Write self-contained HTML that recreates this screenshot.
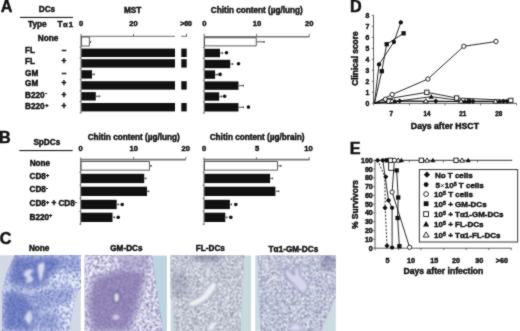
<!DOCTYPE html>
<html><head><meta charset="utf-8"><style>
html,body{margin:0;padding:0;background:#fff;}
body{width:520px;height:331px;overflow:hidden;}
svg{display:block;will-change:transform;}
</style></head><body>
<svg width="520" height="331" viewBox="0 0 520 331" font-family="Liberation Sans, sans-serif" font-weight="bold" fill="#111">
<defs>
<filter id="sw" x="0" y="0" width="1" height="1" color-interpolation-filters="sRGB">
<feTurbulence type="fractalNoise" baseFrequency="0.6" numOctaves="2" seed="4"/>
<feColorMatrix type="matrix" values="0 0 0 0 0.95  0 0 0 0 0.96  0 0 0 0 0.99  -10 0 0 0 6.000"/>
<feConvolveMatrix order="3" kernelMatrix="1 2 1 2 5 2 1 2 1" divisor="17" edgeMode="duplicate"/>
</filter>
<filter id="sw2" x="0" y="0" width="1" height="1" color-interpolation-filters="sRGB">
<feTurbulence type="fractalNoise" baseFrequency="0.75" numOctaves="2" seed="8"/>
<feColorMatrix type="matrix" values="0 0 0 0 0.93  0 0 0 0 0.94  0 0 0 0 0.97  -10 0 0 0 6.000"/>
<feConvolveMatrix order="3" kernelMatrix="1 2 1 2 5 2 1 2 1" divisor="17" edgeMode="duplicate"/>
</filter>
<filter id="nw" x="0" y="0" width="1" height="1" color-interpolation-filters="sRGB">
<feTurbulence type="fractalNoise" baseFrequency="0.6" numOctaves="2" seed="5"/>
<feColorMatrix type="matrix" values="0 0 0 0 0.95  0 0 0 0 0.96  0 0 0 0 0.99  -10 0 0 0 5.000"/>
<feConvolveMatrix order="3" kernelMatrix="1 2 1 2 5 2 1 2 1" divisor="17" edgeMode="duplicate"/>
</filter>
<filter id="nd" x="0" y="0" width="1" height="1" color-interpolation-filters="sRGB">
<feTurbulence type="fractalNoise" baseFrequency="0.65" numOctaves="2" seed="17"/>
<feColorMatrix type="matrix" values="0 0 0 0 0.22  0 0 0 0 0.25  0 0 0 0 0.42  0 10 0 0 -5.400"/>
<feConvolveMatrix order="3" kernelMatrix="1 2 1 2 5 2 1 2 1" divisor="17" edgeMode="duplicate"/>
</filter>
<filter id="bl4"><feGaussianBlur stdDeviation="4"/></filter>
<filter id="bl3"><feGaussianBlur stdDeviation="3"/></filter>
<filter id="bl2"><feGaussianBlur stdDeviation="2"/></filter>
<filter id="bl1"><feGaussianBlur stdDeviation="1"/></filter>
<clipPath id="c1"><rect x="0" y="255.3" width="80.8" height="76"/></clipPath>
<clipPath id="c2"><rect x="84.8" y="255.5" width="82.1" height="76"/></clipPath>
<clipPath id="c3"><rect x="170.6" y="255.6" width="80.4" height="76"/></clipPath>
<clipPath id="c4"><rect x="255.2" y="255.6" width="80.6" height="76"/></clipPath>
<clipPath id="t1"><polygon points="15,255 81,255 81,288 77,292 73.5,305 69,331 2,331 2,293 7,272"/></clipPath>
<clipPath id="t2"><polygon points="84,255 151.7,255 163.2,331 84,331"/></clipPath>
<clipPath id="t3"><polygon points="170,255 244.3,255 240.4,331 174,331 173,300 170,298"/></clipPath>
<clipPath id="t4"><path d="M257.8,255 L336,255 L336,296 L321,331 L261,331 Q258,300 257.8,255z"/></clipPath>
<mask id="m1" maskUnits="userSpaceOnUse" x="0" y="250" width="90" height="90">
 <rect x="0" y="250" width="90" height="90" fill="#fff"/>
 <g filter="url(#bl3)" fill="#1a1a1a">
  <polygon points="12,256 66,256 62,266 52,274 46,284 36,288 20,287 8,283 10,270"/>
  <polygon points="3,293 16,290 28,296 36,306 38,318 34,331 3,331"/>
 </g>
 <g filter="url(#bl3)" fill="#777"><polygon points="28,292 72,286 72,300 35,312"/><polygon points="58,256 81,256 81,272 64,272"/><polygon points="36,312 60,312 60,331 36,331"/></g>
</mask>
<mask id="m2" maskUnits="userSpaceOnUse" x="80" y="250" width="90" height="90">
 <rect x="80" y="250" width="90" height="90" fill="#fff"/>
 <g filter="url(#bl3)" fill="#000">
  <polygon points="94,278 124,268 146,272 142,288 136,312 128,331 92,331 88,302"/>
 </g>
 <g filter="url(#bl2)" fill="#777"><polygon points="116,256 150,256 148,268 122,270"/></g>
</mask>
<filter id="gsoft" x="0" y="0" width="520" height="331" filterUnits="userSpaceOnUse" color-interpolation-filters="sRGB"><feConvolveMatrix order="3" kernelMatrix="1 2 1 2 16 2 1 2 1" divisor="28" edgeMode="duplicate"/></filter>
</defs>
<g filter="url(#gsoft)">
<rect x="0" y="0" width="520" height="331" fill="#fff"/>
<g clip-path="url(#c1)">
 <rect x="0" y="255" width="81" height="77" fill="#d3d8e6"/>
 <g clip-path="url(#t1)">
  <rect x="0" y="255" width="81" height="77" fill="#5a6bbd"/>
  <rect x="0" y="255" width="81" height="77" filter="url(#nw)" opacity="0.3"/><rect x="0" y="255" width="81" height="77" filter="url(#nd)" opacity="0.25"/>
  <g mask="url(#m1)">
   <rect x="0" y="255" width="81" height="77" fill="#6c7ec6"/>
   <rect x="0" y="255" width="81" height="77" filter="url(#sw)"/>
  </g>
 </g>
 <g fill="#e6eaf5" filter="url(#bl1)">
  <path d="M24,272 q5,-5 10,-2 q-3,2 -4,5 q4,2 3,6 q-3,3 -8,1 q3,-2 2,-4 q-4,-2 -3,-6z" opacity="0.85"/>
  <path d="M37.5,266 q3,-4 7,-3 q0,8 -2,13 l-2,7 q-2,-8 -3,-17z" opacity="0.9"/>
  <path d="M24,318 q3,-6 6,-8 q3,4 2,9 l-2,6 q-4,-3 -6,-7z" opacity="0.85"/>
 </g>
</g>
<g clip-path="url(#c2)">
 <rect x="84" y="255" width="84" height="77" fill="#bcd4e0"/>
 <g clip-path="url(#t2)">
  <rect x="84" y="255" width="84" height="77" fill="#8e7fb6"/>
  <rect x="84" y="255" width="84" height="77" filter="url(#nw)" opacity="0.3"/><rect x="84" y="255" width="84" height="77" filter="url(#nd)" opacity="0.2"/>
  <g mask="url(#m2)">
   <rect x="84" y="255" width="84" height="77" fill="#7a70aa"/>
   <rect x="84" y="255" width="84" height="77" filter="url(#sw)"/>
  </g>
 </g>
 <ellipse cx="116.7" cy="297.4" rx="3.9" ry="6.3" fill="#5a5888" opacity="0.65" filter="url(#bl1)"/>
 <ellipse cx="116.6" cy="297.5" rx="2.2" ry="4.4" fill="#eaeaf2" filter="url(#bl1)"/>
 <ellipse cx="116" cy="317" rx="3.5" ry="2.6" fill="#d0d0e6" filter="url(#bl1)"/>
</g>
<g clip-path="url(#c3)">
 <rect x="170" y="255" width="82" height="77" fill="#c8dadd"/>
 <g clip-path="url(#t3)">
  <rect x="170" y="255" width="82" height="77" fill="#9497a8"/>
  <rect x="170" y="255" width="82" height="77" filter="url(#sw2)"/>
  <g filter="url(#bl2)" fill="#6a7090" opacity="0.55"><ellipse cx="208" cy="257" rx="16" ry="4"/><ellipse cx="180" cy="285" rx="8" ry="14" opacity="0.5"/></g>
  <rect x="170" y="255" width="82" height="77" filter="url(#nw)" opacity="0.0"/><rect x="170" y="255" width="82" height="77" filter="url(#nd)" opacity="0.35"/>
  <rect x="170" y="300" width="4" height="31" fill="#d4dae4" opacity="0.7"/>
 </g>
 <path d="M188,303 q5,-4 11,-6 q5,-3 7,-8 q3,-5 7,-7 q4,-1 4,3 q-1,5 -5,9 q-4,6 -10,9 q-6,4 -12,4 q-3,-1 -2,-4z" fill="#eef0f5" stroke="#7c84a4" stroke-width="1" filter="url(#bl1)"/>
 <path d="M206,268 q2,-3 4,0 l0,9 q-2,3 -4,0z" fill="#eef0f5" stroke="#8088a6" stroke-width="0.7" filter="url(#bl1)"/>
 <path d="M206,331 q2,-8 8,-10 q4,-1 4,3 q-4,2 -4,7z" fill="#e8ecf2" stroke="#7c84a4" stroke-width="0.8" filter="url(#bl1)"/>
</g>
<g clip-path="url(#c4)">
 <rect x="255" y="255" width="82" height="77" fill="#ccdae2"/>
 <g clip-path="url(#t4)">
  <rect x="255" y="255" width="82" height="77" fill="#8a90b4"/>
  <rect x="255" y="255" width="82" height="77" filter="url(#sw2)"/>
  <rect x="255" y="255" width="82" height="77" filter="url(#nw)" opacity="0.0"/><rect x="255" y="255" width="82" height="77" filter="url(#nd)" opacity="0.4"/>
  <g filter="url(#bl2)" fill="#4a5078" opacity="0.35"><ellipse cx="328" cy="262" rx="8" ry="8"/></g>
 </g>
 <path d="M284,270 q3,-2 6,1 l4,4 q0,-5 2,-9 l3,0 q0,5 1,8 q1,3 4,5 q4,3 4,8 q-1,5 -5,6 q-4,-1 -6,-5 q-2,-4 -6,-6 q-5,-3 -7,-12z" fill="#d8d8ec" stroke="#8888bc" stroke-width="1.2" filter="url(#bl1)"/>
 <path d="M290,327 q4,-5 9,-3 q3,3 2,7 l-12,0z" fill="#dcdcee" stroke="#8c8cc0" stroke-width="0.9" filter="url(#bl1)"/>
</g>
<text x="0.8" y="11.7" font-size="16.2" text-anchor="start" stroke="#111" stroke-width="0.45" >A</text>
<text x="47" y="12.3" font-size="8.2" text-anchor="middle" stroke="#111" stroke-width="0.45" >DCs</text>
<line x1="20" y1="17.4" x2="73" y2="17.4" stroke="#000" stroke-width="1" />
<text x="28" y="26.9" font-size="8.2" text-anchor="start" stroke="#111" stroke-width="0.45" >Type</text>
<text x="57.6" y="26.9" font-size="8.2" text-anchor="start" stroke="#111" stroke-width="0.45" >T</text>
<text x="63.0" y="26.9" font-size="7.6" text-anchor="start" stroke="#111" stroke-width="0.45" >&#945;</text>
<text x="68.8" y="26.9" font-size="8.0" text-anchor="start" stroke="#111" stroke-width="0.45" >1</text>
<text x="81" y="26.1" font-size="7.6" text-anchor="middle" stroke="#111" stroke-width="0.45" >0</text>
<text x="133.5" y="26.1" font-size="7.6" text-anchor="middle" stroke="#111" stroke-width="0.45" >20</text>
<text x="132.7" y="12.7" font-size="8.2" text-anchor="middle" stroke="#111" stroke-width="0.45" >MST</text>
<text x="186" y="26" font-size="6.9" text-anchor="middle" stroke="#111" stroke-width="0.45" >&gt;60</text>
<text x="204.4" y="26.1" font-size="7.6" text-anchor="middle" stroke="#111" stroke-width="0.45" >0</text>
<text x="257" y="26.1" font-size="7.6" text-anchor="middle" stroke="#111" stroke-width="0.45" >10</text>
<text x="309.3" y="26.1" font-size="7.6" text-anchor="middle" stroke="#111" stroke-width="0.45" >20</text>
<text x="210.8" y="12.6" font-size="8.2" text-anchor="start" stroke="#111" stroke-width="0.45" >Chitin content (&#181;g/lung)</text>
<text x="37.8" y="41.2" font-size="8.2" text-anchor="start" stroke="#111" stroke-width="0.45" >None</text>
<text x="25.1" y="52.8" font-size="8.2" text-anchor="start" stroke="#111" stroke-width="0.45" >FL</text>
<text x="64" y="52.8" font-size="8.2" text-anchor="middle" stroke="#111" stroke-width="0.45" >&#8211;</text>
<text x="25.1" y="64.4" font-size="8.2" text-anchor="start" stroke="#111" stroke-width="0.45" >FL</text>
<text x="64" y="64.4" font-size="8.2" text-anchor="middle" stroke="#111" stroke-width="0.45" >+</text>
<text x="25.1" y="75.6" font-size="8.2" text-anchor="start" stroke="#111" stroke-width="0.45" >GM</text>
<text x="64" y="75.6" font-size="8.2" text-anchor="middle" stroke="#111" stroke-width="0.45" >&#8211;</text>
<text x="25.1" y="86.4" font-size="8.2" text-anchor="start" stroke="#111" stroke-width="0.45" >GM</text>
<text x="64" y="86.4" font-size="8.2" text-anchor="middle" stroke="#111" stroke-width="0.45" >+</text>
<text x="25.1" y="98.1" font-size="8.2" text-anchor="start" stroke="#111" stroke-width="0.45" >B220</text>
<text x="64" y="98.1" font-size="8.2" text-anchor="middle" stroke="#111" stroke-width="0.45" >+</text>
<text x="25.1" y="109.4" font-size="8.2" text-anchor="start" stroke="#111" stroke-width="0.45" >B220</text>
<text x="64" y="109.4" font-size="8.2" text-anchor="middle" stroke="#111" stroke-width="0.45" >+</text>
<text x="45.2" y="95.3" font-size="5.5" text-anchor="start" stroke="#111" stroke-width="0.45" >-</text>
<text x="45.2" y="106.5" font-size="5.5" text-anchor="start" stroke="#111" stroke-width="0.45" >+</text>
<line x1="81" y1="36.3" x2="175" y2="36.3" stroke="#444" stroke-width="0.8" />
<line x1="181.3" y1="36.3" x2="186.6" y2="36.3" stroke="#444" stroke-width="0.8" />
<line x1="186.6" y1="33.6" x2="186.6" y2="36.6" stroke="#444" stroke-width="0.8" />
<line x1="133.5" y1="34" x2="133.5" y2="36.3" stroke="#444" stroke-width="0.8" />
<line x1="81" y1="33.8" x2="81" y2="113.5" stroke="#444" stroke-width="0.8" />
<line x1="79.6" y1="47.3" x2="81" y2="47.3" stroke="#444" stroke-width="0.7" />
<line x1="79.6" y1="57.9" x2="81" y2="57.9" stroke="#444" stroke-width="0.7" />
<line x1="79.6" y1="68.8" x2="81" y2="68.8" stroke="#444" stroke-width="0.7" />
<line x1="79.6" y1="79.8" x2="81" y2="79.8" stroke="#444" stroke-width="0.7" />
<line x1="79.6" y1="90.7" x2="81" y2="90.7" stroke="#444" stroke-width="0.7" />
<line x1="79.6" y1="101.6" x2="81" y2="101.6" stroke="#444" stroke-width="0.7" />
<line x1="79.6" y1="112.8" x2="81" y2="112.8" stroke="#444" stroke-width="0.7" />
<rect x="81.4" y="37.0" width="7.8999999999999915" height="9.0" fill="#fff" stroke="#333" stroke-width="0.8" />
<line x1="89.3" y1="42.1" x2="91" y2="42.1" stroke="#777" stroke-width="1.3" />
<line x1="90.6" y1="41.2" x2="90.6" y2="43.0" stroke="#444" stroke-width="1.0" />
<rect x="81.4" y="48.6" width="93.6" height="8.4" fill="#111" stroke="none" stroke-width="0.8" />
<rect x="181.3" y="48.6" width="5.399999999999977" height="8.4" fill="#111" stroke="none" stroke-width="0.8" />
<rect x="81.4" y="59.2" width="93.6" height="8.4" fill="#111" stroke="none" stroke-width="0.8" />
<rect x="181.3" y="59.2" width="5.399999999999977" height="8.4" fill="#111" stroke="none" stroke-width="0.8" />
<rect x="81.4" y="70.2" width="10.599999999999994" height="8.4" fill="#111" stroke="none" stroke-width="0.8" />
<line x1="92.0" y1="74.4" x2="94.6" y2="74.4" stroke="#777" stroke-width="1.3" />
<line x1="94.19999999999999" y1="73.5" x2="94.19999999999999" y2="75.30000000000001" stroke="#444" stroke-width="1.0" />
<rect x="81.4" y="81.2" width="93.6" height="8.4" fill="#111" stroke="none" stroke-width="0.8" />
<rect x="181.3" y="81.2" width="5.399999999999977" height="8.4" fill="#111" stroke="none" stroke-width="0.8" />
<rect x="81.4" y="92.1" width="14.399999999999991" height="8.4" fill="#111" stroke="none" stroke-width="0.8" />
<line x1="95.8" y1="96.3" x2="100" y2="96.3" stroke="#777" stroke-width="1.3" />
<line x1="99.6" y1="95.39999999999999" x2="99.6" y2="97.2" stroke="#444" stroke-width="1.0" />
<rect x="81.4" y="103.0" width="93.6" height="8.4" fill="#111" stroke="none" stroke-width="0.8" />
<rect x="181.3" y="103.0" width="5.399999999999977" height="8.4" fill="#111" stroke="none" stroke-width="0.8" />
<line x1="204.2" y1="36.7" x2="309.3" y2="36.7" stroke="#777" stroke-width="1.6" />
<line x1="256.6" y1="33.8" x2="256.6" y2="36.7" stroke="#555" stroke-width="0.8" />
<line x1="309.3" y1="33.8" x2="309.3" y2="36.7" stroke="#555" stroke-width="0.8" />
<line x1="204.2" y1="33.8" x2="204.2" y2="113.5" stroke="#444" stroke-width="0.8" />
<line x1="202.8" y1="47.6" x2="204.2" y2="47.6" stroke="#444" stroke-width="0.7" />
<line x1="202.8" y1="58.4" x2="204.2" y2="58.4" stroke="#444" stroke-width="0.7" />
<line x1="202.8" y1="69.2" x2="204.2" y2="69.2" stroke="#444" stroke-width="0.7" />
<line x1="202.8" y1="80.2" x2="204.2" y2="80.2" stroke="#444" stroke-width="0.7" />
<line x1="202.8" y1="91.2" x2="204.2" y2="91.2" stroke="#444" stroke-width="0.7" />
<line x1="202.8" y1="102" x2="204.2" y2="102" stroke="#444" stroke-width="0.7" />
<line x1="202.8" y1="113" x2="204.2" y2="113" stroke="#444" stroke-width="0.7" />
<rect x="204.6" y="37.8" width="51.599999999999994" height="8.099999999999998" fill="#fff" stroke="#333" stroke-width="0.8" />
<line x1="256.2" y1="41.8" x2="264.5" y2="41.8" stroke="#777" stroke-width="1.3" />
<line x1="264.1" y1="40.9" x2="264.1" y2="42.699999999999996" stroke="#444" stroke-width="1.0" />
<rect x="204.6" y="48.8" width="15.400000000000006" height="8.4" fill="#111" stroke="none" stroke-width="0.8" />
<line x1="220.0" y1="53.0" x2="223.0" y2="53.0" stroke="#777" stroke-width="1.3" />
<line x1="222.6" y1="52.1" x2="222.6" y2="53.9" stroke="#444" stroke-width="1.0" />
<circle cx="226.5" cy="52.8" r="1.8" fill="#111"/>
<rect x="204.6" y="59.8" width="25.599999999999994" height="8.4" fill="#111" stroke="none" stroke-width="0.8" />
<line x1="230.2" y1="64.0" x2="233.2" y2="64.0" stroke="#777" stroke-width="1.3" />
<line x1="232.79999999999998" y1="63.1" x2="232.79999999999998" y2="64.9" stroke="#444" stroke-width="1.0" />
<circle cx="238.5" cy="63.8" r="1.8" fill="#111"/>
<rect x="204.6" y="70.4" width="10.5" height="8.4" fill="#111" stroke="none" stroke-width="0.8" />
<line x1="215.1" y1="74.60000000000001" x2="217.6" y2="74.60000000000001" stroke="#777" stroke-width="1.3" />
<line x1="217.2" y1="73.7" x2="217.2" y2="75.50000000000001" stroke="#444" stroke-width="1.0" />
<circle cx="220.1" cy="74.4" r="1.8" fill="#111"/>
<rect x="204.6" y="81.4" width="33.900000000000006" height="8.4" fill="#111" stroke="none" stroke-width="0.8" />
<line x1="238.5" y1="85.60000000000001" x2="243.8" y2="85.60000000000001" stroke="#777" stroke-width="1.3" />
<line x1="243.4" y1="84.7" x2="243.4" y2="86.50000000000001" stroke="#444" stroke-width="1.0" />
<rect x="204.6" y="92.3" width="14.599999999999994" height="8.4" fill="#111" stroke="none" stroke-width="0.8" />
<line x1="219.2" y1="96.5" x2="222.0" y2="96.5" stroke="#777" stroke-width="1.3" />
<line x1="221.6" y1="95.6" x2="221.6" y2="97.4" stroke="#444" stroke-width="1.0" />
<circle cx="224.6" cy="96.3" r="1.8" fill="#111"/>
<rect x="204.6" y="103.1" width="33.900000000000006" height="8.4" fill="#111" stroke="none" stroke-width="0.8" />
<line x1="238.5" y1="107.3" x2="243.8" y2="107.3" stroke="#777" stroke-width="1.3" />
<line x1="243.4" y1="106.39999999999999" x2="243.4" y2="108.2" stroke="#444" stroke-width="1.0" />
<circle cx="248.4" cy="107.1" r="1.8" fill="#111"/>
<text x="-0.9" y="143.1" font-size="16.2" text-anchor="start" stroke="#111" stroke-width="0.45" >B</text>
<text x="46.8" y="145" font-size="8.2" text-anchor="middle" stroke="#111" stroke-width="0.45" >SpDCs</text>
<line x1="19.3" y1="150.6" x2="72.6" y2="150.6" stroke="#000" stroke-width="1" />
<text x="80.7" y="150.5" font-size="7.6" text-anchor="middle" stroke="#111" stroke-width="0.45" >0</text>
<text x="133.8" y="150.5" font-size="7.6" text-anchor="middle" stroke="#111" stroke-width="0.45" >10</text>
<text x="185.8" y="150.5" font-size="7.6" text-anchor="middle" stroke="#111" stroke-width="0.45" >20</text>
<text x="133.7" y="140.0" font-size="8.2" text-anchor="middle" stroke="#111" stroke-width="0.45" >Chitin content (&#181;g/lung)</text>
<text x="204.2" y="150.7" font-size="7.6" text-anchor="middle" stroke="#111" stroke-width="0.45" >0</text>
<text x="257" y="150.7" font-size="7.6" text-anchor="middle" stroke="#111" stroke-width="0.45" >5</text>
<text x="308.6" y="150.7" font-size="7.6" text-anchor="middle" stroke="#111" stroke-width="0.45" >10</text>
<text x="257.1" y="140.0" font-size="8.2" text-anchor="middle" stroke="#111" stroke-width="0.45" >Chitin content (&#181;g/brain)</text>
<text x="29.7" y="166" font-size="8.2" text-anchor="start" stroke="#111" stroke-width="0.45" >None</text>
<text x="29.5" y="179.1" font-size="8.2" text-anchor="start" stroke="#111" stroke-width="0.45" >CD8<tspan font-size="5.5" dy="-2.6">+</tspan></text>
<text x="29.5" y="192.4" font-size="8.2" text-anchor="start" stroke="#111" stroke-width="0.45" >CD8<tspan font-size="5.5" dy="-2.6">-</tspan></text>
<text x="29.5" y="206.2" font-size="8.2" text-anchor="start" stroke="#111" stroke-width="0.45" >CD8<tspan font-size="5.5" dy="-2.6">+</tspan><tspan dy="2.6"> + CD8</tspan><tspan font-size="5.5" dy="-2.6">-</tspan></text>
<text x="29.5" y="220" font-size="8.2" text-anchor="start" stroke="#111" stroke-width="0.45" >B220<tspan font-size="5.5" dy="-2.6">+</tspan></text>
<line x1="80.7" y1="159.6" x2="185.8" y2="159.6" stroke="#777" stroke-width="1.6" />
<line x1="133.6" y1="157" x2="133.6" y2="159.6" stroke="#555" stroke-width="0.8" />
<line x1="185.8" y1="157" x2="185.8" y2="159.6" stroke="#555" stroke-width="0.8" />
<line x1="80.7" y1="157.5" x2="80.7" y2="225" stroke="#444" stroke-width="0.8" />
<line x1="79.3" y1="172.3" x2="80.7" y2="172.3" stroke="#444" stroke-width="0.7" />
<line x1="79.3" y1="185.2" x2="80.7" y2="185.2" stroke="#444" stroke-width="0.7" />
<line x1="79.3" y1="198.3" x2="80.7" y2="198.3" stroke="#444" stroke-width="0.7" />
<line x1="79.3" y1="211.3" x2="80.7" y2="211.3" stroke="#444" stroke-width="0.7" />
<line x1="79.3" y1="224.2" x2="80.7" y2="224.2" stroke="#444" stroke-width="0.7" />
<rect x="81.10000000000001" y="161.6" width="68.39999999999999" height="8.5" fill="#fff" stroke="#333" stroke-width="0.8" />
<line x1="149.5" y1="165.85" x2="151.5" y2="165.85" stroke="#777" stroke-width="1.3" />
<line x1="151.1" y1="164.95" x2="151.1" y2="166.75" stroke="#444" stroke-width="1.0" />
<rect x="81.10000000000001" y="173.8" width="63.09999999999999" height="9.3" fill="#111" stroke="none" stroke-width="0.8" />
<line x1="144.2" y1="178.45000000000002" x2="146.3" y2="178.45000000000002" stroke="#777" stroke-width="1.3" />
<line x1="145.9" y1="177.55" x2="145.9" y2="179.35000000000002" stroke="#444" stroke-width="1.0" />
<rect x="81.10000000000001" y="186.7" width="65.89999999999999" height="9.3" fill="#111" stroke="none" stroke-width="0.8" />
<line x1="147.0" y1="191.35" x2="149.2" y2="191.35" stroke="#777" stroke-width="1.3" />
<line x1="148.79999999999998" y1="190.45" x2="148.79999999999998" y2="192.25" stroke="#444" stroke-width="1.0" />
<rect x="81.10000000000001" y="199.8" width="35.6" height="9.3" fill="#111" stroke="none" stroke-width="0.8" />
<line x1="116.7" y1="204.45000000000002" x2="119.0" y2="204.45000000000002" stroke="#777" stroke-width="1.3" />
<line x1="118.6" y1="203.55" x2="118.6" y2="205.35000000000002" stroke="#444" stroke-width="1.0" />
<circle cx="122.2" cy="204.45000000000002" r="1.8" fill="#111"/>
<rect x="81.10000000000001" y="212.7" width="31.4" height="9.3" fill="#111" stroke="none" stroke-width="0.8" />
<line x1="112.5" y1="217.35" x2="115.0" y2="217.35" stroke="#777" stroke-width="1.3" />
<line x1="114.6" y1="216.45" x2="114.6" y2="218.25" stroke="#444" stroke-width="1.0" />
<circle cx="118.2" cy="217.35" r="1.8" fill="#111"/>
<line x1="204.0" y1="159.6" x2="309.5" y2="159.6" stroke="#777" stroke-width="1.6" />
<line x1="256.4" y1="157" x2="256.4" y2="159.6" stroke="#555" stroke-width="0.8" />
<line x1="309.2" y1="157" x2="309.2" y2="159.6" stroke="#555" stroke-width="0.8" />
<line x1="204.0" y1="157.5" x2="204.0" y2="225" stroke="#444" stroke-width="0.8" />
<line x1="202.6" y1="172.3" x2="204.0" y2="172.3" stroke="#444" stroke-width="0.7" />
<line x1="202.6" y1="185.2" x2="204.0" y2="185.2" stroke="#444" stroke-width="0.7" />
<line x1="202.6" y1="198.3" x2="204.0" y2="198.3" stroke="#444" stroke-width="0.7" />
<line x1="202.6" y1="211.3" x2="204.0" y2="211.3" stroke="#444" stroke-width="0.7" />
<line x1="202.6" y1="224.2" x2="204.0" y2="224.2" stroke="#444" stroke-width="0.7" />
<rect x="204.4" y="161.6" width="73.1" height="8.5" fill="#fff" stroke="#333" stroke-width="0.8" />
<line x1="277.5" y1="165.85" x2="281.3" y2="165.85" stroke="#777" stroke-width="1.3" />
<line x1="280.90000000000003" y1="164.95" x2="280.90000000000003" y2="166.75" stroke="#444" stroke-width="1.0" />
<rect x="204.4" y="173.8" width="65.70000000000002" height="9.3" fill="#111" stroke="none" stroke-width="0.8" />
<line x1="270.1" y1="178.45000000000002" x2="273.0" y2="178.45000000000002" stroke="#777" stroke-width="1.3" />
<line x1="272.6" y1="177.55" x2="272.6" y2="179.35000000000002" stroke="#444" stroke-width="1.0" />
<rect x="204.4" y="186.7" width="70.99999999999997" height="9.3" fill="#111" stroke="none" stroke-width="0.8" />
<line x1="275.4" y1="191.35" x2="279.2" y2="191.35" stroke="#777" stroke-width="1.3" />
<line x1="278.8" y1="190.45" x2="278.8" y2="192.25" stroke="#444" stroke-width="1.0" />
<rect x="204.4" y="199.8" width="25.500000000000007" height="9.3" fill="#111" stroke="none" stroke-width="0.8" />
<line x1="229.9" y1="204.45000000000002" x2="232.0" y2="204.45000000000002" stroke="#777" stroke-width="1.3" />
<line x1="231.6" y1="203.55" x2="231.6" y2="205.35000000000002" stroke="#444" stroke-width="1.0" />
<circle cx="235.8" cy="204.45000000000002" r="1.8" fill="#111"/>
<rect x="204.4" y="212.7" width="20.900000000000013" height="9.3" fill="#111" stroke="none" stroke-width="0.8" />
<line x1="225.3" y1="217.35" x2="227.4" y2="217.35" stroke="#777" stroke-width="1.3" />
<line x1="227.0" y1="216.45" x2="227.0" y2="218.25" stroke="#444" stroke-width="1.0" />
<circle cx="230.8" cy="217.35" r="1.8" fill="#111"/>
<text x="-0.2" y="243.6" font-size="16.2" text-anchor="start" stroke="#111" stroke-width="0.45" >C</text>
<text x="39.2" y="251.3" font-size="8.2" text-anchor="middle" stroke="#111" stroke-width="0.45" >None</text>
<text x="126.4" y="251.3" font-size="8.2" text-anchor="middle" stroke="#111" stroke-width="0.45" >GM-DCs</text>
<text x="210.3" y="251.3" font-size="8.2" text-anchor="middle" stroke="#111" stroke-width="0.45" >FL-DCs</text>
<text x="293.4" y="251.6" font-size="8.2" text-anchor="middle" stroke="#111" stroke-width="0.45" >T&#945;1-GM-DCs</text>
<text x="350.0" y="11.8" font-size="16.2" text-anchor="start" stroke="#111" stroke-width="0.45" >D</text>
<line x1="373.5" y1="15.2" x2="373.5" y2="103.4" stroke="#333" stroke-width="0.8" />
<line x1="371.8" y1="103.2" x2="373.5" y2="103.2" stroke="#333" stroke-width="0.7" />
<text x="369.3" y="105.60000000000001" font-size="6.9" text-anchor="end" stroke="#111" stroke-width="0.45" >0</text>
<line x1="371.8" y1="92.23" x2="373.5" y2="92.23" stroke="#333" stroke-width="0.7" />
<text x="369.3" y="94.63000000000001" font-size="6.9" text-anchor="end" stroke="#111" stroke-width="0.45" >1</text>
<line x1="371.8" y1="81.26" x2="373.5" y2="81.26" stroke="#333" stroke-width="0.7" />
<text x="369.3" y="83.66000000000001" font-size="6.9" text-anchor="end" stroke="#111" stroke-width="0.45" >2</text>
<line x1="371.8" y1="70.28999999999999" x2="373.5" y2="70.28999999999999" stroke="#333" stroke-width="0.7" />
<text x="369.3" y="72.69" font-size="6.9" text-anchor="end" stroke="#111" stroke-width="0.45" >3</text>
<line x1="371.8" y1="59.32" x2="373.5" y2="59.32" stroke="#333" stroke-width="0.7" />
<text x="369.3" y="61.72" font-size="6.9" text-anchor="end" stroke="#111" stroke-width="0.45" >4</text>
<line x1="371.8" y1="48.35" x2="373.5" y2="48.35" stroke="#333" stroke-width="0.7" />
<text x="369.3" y="50.75" font-size="6.9" text-anchor="end" stroke="#111" stroke-width="0.45" >5</text>
<line x1="371.8" y1="37.379999999999995" x2="373.5" y2="37.379999999999995" stroke="#333" stroke-width="0.7" />
<text x="369.3" y="39.779999999999994" font-size="6.9" text-anchor="end" stroke="#111" stroke-width="0.45" >6</text>
<line x1="371.8" y1="26.409999999999997" x2="373.5" y2="26.409999999999997" stroke="#333" stroke-width="0.7" />
<text x="369.3" y="28.809999999999995" font-size="6.9" text-anchor="end" stroke="#111" stroke-width="0.45" >7</text>
<line x1="371.8" y1="15.439999999999998" x2="373.5" y2="15.439999999999998" stroke="#333" stroke-width="0.7" />
<text x="369.3" y="17.839999999999996" font-size="6.9" text-anchor="end" stroke="#111" stroke-width="0.45" >8</text>
<text x="0" y="0" font-size="8.4" text-anchor="middle" stroke="#111" stroke-width="0.45" transform="translate(358.3,58.6) rotate(-90)">Clinical score</text>
<line x1="373.5" y1="103.4" x2="516.5" y2="103.4" stroke="#333" stroke-width="0.8" />
<line x1="373.5" y1="103.4" x2="373.5" y2="105.4" stroke="#333" stroke-width="0.7" />
<line x1="409.5" y1="103.4" x2="409.5" y2="105.4" stroke="#333" stroke-width="0.7" />
<line x1="445" y1="103.4" x2="445" y2="105.4" stroke="#333" stroke-width="0.7" />
<line x1="480.5" y1="103.4" x2="480.5" y2="105.4" stroke="#333" stroke-width="0.7" />
<line x1="516.5" y1="103.4" x2="516.5" y2="105.4" stroke="#333" stroke-width="0.7" />
<text x="391.3" y="116" font-size="6.3" text-anchor="middle" stroke="#111" stroke-width="0.45" >7</text>
<text x="427" y="116" font-size="6.3" text-anchor="middle" stroke="#111" stroke-width="0.45" >14</text>
<text x="462.8" y="116" font-size="6.3" text-anchor="middle" stroke="#111" stroke-width="0.45" >21</text>
<text x="498.7" y="116" font-size="6.3" text-anchor="middle" stroke="#111" stroke-width="0.45" >28</text>
<text x="444.9" y="128.6" font-size="8.7" text-anchor="middle" stroke="#111" stroke-width="0.45" >Days after HSCT</text>
<polyline points="374.5,103.2 379,64.5 393.9,42 400.8,22.4" fill="none" stroke="#111" stroke-width="0.9" />
<polyline points="374.5,103.2 381.8,71.2 386.7,44.2 403.6,33.3" fill="none" stroke="#111" stroke-width="0.9" />
<polyline points="374.5,103.2 392.2,94.5 427.9,79 463.8,46.3 496,41.5" fill="none" stroke="#111" stroke-width="0.9" />
<polyline points="374.5,103.2 385.5,99.2 426.8,92.3 456.6,98 510.8,100.4" fill="none" stroke="#111" stroke-width="0.9" />
<polyline points="374.5,103.2 394.7,101.5 431.2,96.7 466,101.2 503,101.2" fill="none" stroke="#111" stroke-width="0.9" />
<polyline points="374.5,103.2 392,101 425.8,101.3 462,101.6 499,101.6" fill="none" stroke="#111" stroke-width="0.9" />
<polyline points="374.5,103.2 399.7,101.1 435.8,101.2 470,101.6 506,101.6" fill="none" stroke="#111" stroke-width="0.9" />
<circle cx="379" cy="64.5" r="2.15" fill="#111"/>
<circle cx="393.9" cy="42" r="2.15" fill="#111"/>
<circle cx="400.8" cy="22.4" r="2.15" fill="#111"/>
<rect x="379.65000000000003" y="69.05" width="4.3" height="4.3" fill="#111"/>
<rect x="384.55" y="42.050000000000004" width="4.3" height="4.3" fill="#111"/>
<rect x="401.45000000000005" y="31.15" width="4.3" height="4.3" fill="#111"/>
<circle cx="392.2" cy="94.5" r="2.15" fill="#fff" stroke="#111" stroke-width="0.9"/>
<circle cx="427.9" cy="79" r="2.15" fill="#fff" stroke="#111" stroke-width="0.9"/>
<circle cx="463.8" cy="46.3" r="2.15" fill="#fff" stroke="#111" stroke-width="0.9"/>
<circle cx="496" cy="41.5" r="2.15" fill="#fff" stroke="#111" stroke-width="0.9"/>
<circle cx="385.5" cy="99.2" r="2.15" fill="#fff" stroke="#111" stroke-width="0.9"/>
<rect x="386.95000000000005" y="99.14999999999999" width="4.3" height="4.3" fill="#fff" stroke="#111" stroke-width="0.9"/>
<polygon points="392,98.53500000000001 394.4725,102.7275 389.5275,102.7275" fill="#fff" stroke="#111" stroke-width="0.9"/>
<polygon points="394.7,98.62 397.28,103.135 392.12,103.135" fill="#111"/>
<polygon points="399.7,98.42 402.28,101 399.7,103.58 397.12,101" fill="#111"/>
<rect x="424.65000000000003" y="90.14999999999999" width="4.3" height="4.3" fill="#fff" stroke="#111" stroke-width="0.9"/>
<polygon points="431.2,94.12 433.78,98.635 428.62,98.635" fill="#111"/>
<polygon points="425.8,98.735 428.27250000000004,102.9275 423.3275,102.9275" fill="#fff" stroke="#111" stroke-width="0.9"/>
<polygon points="435.8,98.52 438.38,101.1 435.8,103.67999999999999 433.22,101.1" fill="#111"/>
<rect x="454.45000000000005" y="95.85" width="4.3" height="4.3" fill="#fff" stroke="#111" stroke-width="0.9"/>
<polygon points="461,98.935 463.4725,103.1275 458.5275,103.1275" fill="#fff" stroke="#111" stroke-width="0.9"/>
<polygon points="465,98.72 467.58,103.235 462.42,103.235" fill="#111"/>
<rect x="466.85" y="99.14999999999999" width="4.3" height="4.3" fill="#111"/>
<polygon points="473,98.72 475.58,101.3 473,103.88 470.42,101.3" fill="#111"/>
<polygon points="495.5,98.935 497.9725,103.1275 493.0275,103.1275" fill="#fff" stroke="#111" stroke-width="0.9"/>
<polygon points="499.5,98.72 502.08,103.235 496.92,103.235" fill="#111"/>
<polygon points="503.5,98.72 506.08,101.3 503.5,103.88 500.92,101.3" fill="#111"/>
<polygon points="507,98.72 509.58,101.3 507,103.88 504.42,101.3" fill="#111"/>
<rect x="508.65000000000003" y="98.25" width="4.3" height="4.3" fill="#fff" stroke="#111" stroke-width="0.9"/>
<text x="349.7" y="153.9" font-size="16.2" text-anchor="start" stroke="#111" stroke-width="0.45" >E</text>
<line x1="375" y1="160.3" x2="375" y2="248.2" stroke="#333" stroke-width="0.8" />
<line x1="373.3" y1="248.0" x2="375" y2="248.0" stroke="#333" stroke-width="0.7" />
<text x="372.8" y="250.5" font-size="7.1" text-anchor="end" stroke="#111" stroke-width="0.45" >0</text>
<line x1="373.3" y1="239.23" x2="375" y2="239.23" stroke="#333" stroke-width="0.7" />
<text x="372.8" y="241.73" font-size="7.1" text-anchor="end" stroke="#111" stroke-width="0.45" >10</text>
<line x1="373.3" y1="230.46" x2="375" y2="230.46" stroke="#333" stroke-width="0.7" />
<text x="372.8" y="232.96" font-size="7.1" text-anchor="end" stroke="#111" stroke-width="0.45" >20</text>
<line x1="373.3" y1="221.69" x2="375" y2="221.69" stroke="#333" stroke-width="0.7" />
<text x="372.8" y="224.19" font-size="7.1" text-anchor="end" stroke="#111" stroke-width="0.45" >30</text>
<line x1="373.3" y1="212.92000000000002" x2="375" y2="212.92000000000002" stroke="#333" stroke-width="0.7" />
<text x="372.8" y="215.42000000000002" font-size="7.1" text-anchor="end" stroke="#111" stroke-width="0.45" >40</text>
<line x1="373.3" y1="204.15" x2="375" y2="204.15" stroke="#333" stroke-width="0.7" />
<text x="372.8" y="206.65" font-size="7.1" text-anchor="end" stroke="#111" stroke-width="0.45" >50</text>
<line x1="373.3" y1="195.38" x2="375" y2="195.38" stroke="#333" stroke-width="0.7" />
<text x="372.8" y="197.88" font-size="7.1" text-anchor="end" stroke="#111" stroke-width="0.45" >60</text>
<line x1="373.3" y1="186.61" x2="375" y2="186.61" stroke="#333" stroke-width="0.7" />
<text x="372.8" y="189.11" font-size="7.1" text-anchor="end" stroke="#111" stroke-width="0.45" >70</text>
<line x1="373.3" y1="177.84" x2="375" y2="177.84" stroke="#333" stroke-width="0.7" />
<text x="372.8" y="180.34" font-size="7.1" text-anchor="end" stroke="#111" stroke-width="0.45" >80</text>
<line x1="373.3" y1="169.07" x2="375" y2="169.07" stroke="#333" stroke-width="0.7" />
<text x="372.8" y="171.57" font-size="7.1" text-anchor="end" stroke="#111" stroke-width="0.45" >90</text>
<line x1="373.3" y1="160.3" x2="375" y2="160.3" stroke="#333" stroke-width="0.7" />
<text x="372.8" y="162.8" font-size="7.1" text-anchor="end" stroke="#111" stroke-width="0.45" >100</text>
<text x="0" y="0" font-size="8.5" text-anchor="middle" stroke="#111" stroke-width="0.45" transform="translate(358.0,204.5) rotate(-90)">% Survivors</text>
<line x1="375" y1="248.2" x2="511.4" y2="248.2" stroke="#333" stroke-width="0.8" />
<line x1="375" y1="248.2" x2="375" y2="250.2" stroke="#333" stroke-width="0.7" />
<line x1="398.5" y1="248.2" x2="398.5" y2="250.2" stroke="#333" stroke-width="0.7" />
<line x1="421" y1="248.2" x2="421" y2="250.2" stroke="#333" stroke-width="0.7" />
<line x1="443.8" y1="248.2" x2="443.8" y2="250.2" stroke="#333" stroke-width="0.7" />
<line x1="466.3" y1="248.2" x2="466.3" y2="250.2" stroke="#333" stroke-width="0.7" />
<line x1="488.8" y1="248.2" x2="488.8" y2="250.2" stroke="#333" stroke-width="0.7" />
<line x1="511.3" y1="248.2" x2="511.3" y2="250.2" stroke="#333" stroke-width="0.7" />
<text x="387.6" y="262.8" font-size="7.2" text-anchor="middle" stroke="#111" stroke-width="0.45" >5</text>
<text x="411.1" y="262.8" font-size="7.2" text-anchor="middle" stroke="#111" stroke-width="0.45" >10</text>
<text x="434.3" y="262.8" font-size="7.2" text-anchor="middle" stroke="#111" stroke-width="0.45" >15</text>
<text x="456" y="262.8" font-size="7.2" text-anchor="middle" stroke="#111" stroke-width="0.45" >20</text>
<text x="479.3" y="262.8" font-size="7.2" text-anchor="middle" stroke="#111" stroke-width="0.45" >30</text>
<text x="501.8" y="262.8" font-size="7.2" text-anchor="middle" stroke="#111" stroke-width="0.45" >&gt;60</text>
<text x="443.5" y="273.8" font-size="8.6" text-anchor="middle" stroke="#111" stroke-width="0.45" >Days after infection</text>
<line x1="375" y1="160.3" x2="512.2" y2="160.3" stroke="#222" stroke-width="0.9" />
<line x1="409.4" y1="160.3" x2="409.4" y2="162.5" stroke="#333" stroke-width="0.7" />
<line x1="443.4" y1="160.3" x2="443.4" y2="162.5" stroke="#333" stroke-width="0.7" />
<line x1="477.6" y1="160.3" x2="477.6" y2="162.5" stroke="#333" stroke-width="0.7" />
<polyline points="377.6,160.3 384.9,176.6 385.2,207.8 387,245.8" fill="none" stroke="#111" stroke-width="0.9" stroke-dasharray="2,1.5"/>
<polyline points="382.8,160.3 388.5,200.3 392.1,207.8 392.1,247.6" fill="none" stroke="#111" stroke-width="0.9" />
<polyline points="394.4,160.3 392.1,192.1 409.6,247.3" fill="none" stroke="#111" stroke-width="0.9" />
<polyline points="388.6,160.3 388.6,170.4 396.7,170.4 398.2,197.5 397.6,218 399.4,246.2" fill="none" stroke="#111" stroke-width="0.9" />
<polygon points="377.6,157.72 380.18,160.3 377.6,162.88000000000002 375.02000000000004,160.3" fill="#111"/>
<circle cx="382.8" cy="160.3" r="2.15" fill="#111"/>
<rect x="384.65000000000003" y="158.15" width="4.3" height="4.3" fill="#111"/>
<rect x="388.35" y="158.15" width="4.3" height="4.3" fill="#fff" stroke="#111" stroke-width="0.9"/>
<circle cx="394.4" cy="160.3" r="2.15" fill="#fff" stroke="#111" stroke-width="0.9"/>
<polygon points="398.2,157.935 400.6725,162.1275 395.72749999999996,162.1275" fill="#fff" stroke="#111" stroke-width="0.9"/>
<polygon points="401.4,157.72 403.97999999999996,162.235 398.82,162.235" fill="#111"/>
<rect x="419.15000000000003" y="158.15" width="4.3" height="4.3" fill="#fff" stroke="#111" stroke-width="0.9"/>
<polygon points="427.1,157.935 429.57250000000005,162.1275 424.6275,162.1275" fill="#fff" stroke="#111" stroke-width="0.9"/>
<polygon points="432.9,157.72 435.47999999999996,162.235 430.32,162.235" fill="#111"/>
<rect x="453.85" y="158.15" width="4.3" height="4.3" fill="#fff" stroke="#111" stroke-width="0.9"/>
<polygon points="462.1,157.935 464.57250000000005,162.1275 459.6275,162.1275" fill="#fff" stroke="#111" stroke-width="0.9"/>
<polygon points="468.2,157.72 470.78,162.235 465.62,162.235" fill="#111"/>
<polygon points="385.8,174.22 388.38,176.8 385.8,179.38000000000002 383.22,176.8" fill="#111"/>
<rect x="394.55" y="168.25" width="4.3" height="4.3" fill="#111"/>
<rect x="396.05" y="195.35" width="4.3" height="4.3" fill="#111"/>
<rect x="395.45000000000005" y="215.85" width="4.3" height="4.3" fill="#111"/>
<rect x="397.25" y="244.04999999999998" width="4.3" height="4.3" fill="#111"/>
<circle cx="392.1" cy="192.1" r="2.15" fill="#fff" stroke="#111" stroke-width="0.9"/>
<circle cx="409.6" cy="247.3" r="2.15" fill="#fff" stroke="#111" stroke-width="0.9"/>
<circle cx="388.5" cy="200.3" r="2.15" fill="#111"/>
<circle cx="392.1" cy="207.8" r="2.15" fill="#111"/>
<circle cx="392.1" cy="247.6" r="2.15" fill="#111"/>
<polygon points="385.0,205.22 387.58,207.8 385.0,210.38000000000002 382.42,207.8" fill="#111"/>
<polygon points="387,243.22 389.58,245.8 387,248.38000000000002 384.42,245.8" fill="#111"/>
<rect x="419.3" y="169.6" width="98.4" height="72.4" fill="none" stroke="#222" stroke-width="0.9" />
<polygon points="426.9,171.57999999999998 430.02,174.7 426.9,177.82 423.78,174.7" fill="#111"/>
<text x="434.9" y="178.04999999999998" font-size="8.0" text-anchor="start" stroke="#111" stroke-width="0.45" >No T cells</text>
<circle cx="426.1" cy="184.60000000000002" r="2.4" fill="#111"/>
<text x="435.6" y="187.65" font-size="8.0" text-anchor="start" stroke="#111" stroke-width="0.45" >5<tspan font-weight="normal" stroke-width="0">&#215;</tspan>10<tspan font-size="5.4" dy="-2.1">5</tspan><tspan dy="2.1"> T cells</tspan></text>
<circle cx="426.1" cy="194.10000000000002" r="2.4" fill="#fff" stroke="#111" stroke-width="0.9"/>
<text x="434.0" y="197.15" font-size="8.0" text-anchor="start" stroke="#111" stroke-width="0.45" >10<tspan font-size="5.4" dy="-2.1">5</tspan><tspan dy="2.1"> T cells</tspan></text>
<rect x="423.70000000000005" y="201.3" width="4.8" height="4.8" fill="#111"/>
<text x="434.0" y="206.75" font-size="8.0" text-anchor="start" stroke="#111" stroke-width="0.45" >10<tspan font-size="5.4" dy="-2.1">5</tspan><tspan dy="2.1"> + GM-DCs</tspan></text>
<rect x="423.70000000000005" y="211.70000000000002" width="4.8" height="4.8" fill="#fff" stroke="#111" stroke-width="0.9"/>
<text x="434.0" y="217.15" font-size="8.0" text-anchor="start" stroke="#111" stroke-width="0.45" >10<tspan font-size="5.4" dy="-2.1">5</tspan><tspan dy="2.1"> + T&#945;1-GM-DCs</tspan></text>
<polygon points="426.1,221.08 429.22,226.54000000000002 422.98,226.54000000000002" fill="#111"/>
<text x="434.0" y="227.25" font-size="8.0" text-anchor="start" stroke="#111" stroke-width="0.45" >10<tspan font-size="5.4" dy="-2.1">5</tspan><tspan dy="2.1"> + FL-DCs</tspan></text>
<polygon points="426.1,231.94 429.09000000000003,237.01000000000002 423.11,237.01000000000002" fill="#fff" stroke="#111" stroke-width="0.9"/>
<text x="434.0" y="237.85" font-size="8.0" text-anchor="start" stroke="#111" stroke-width="0.45" >10<tspan font-size="5.4" dy="-2.1">5</tspan><tspan dy="2.1"> + T&#945;1-FL-DCs</tspan></text>
</g>
</svg>
</body></html>
